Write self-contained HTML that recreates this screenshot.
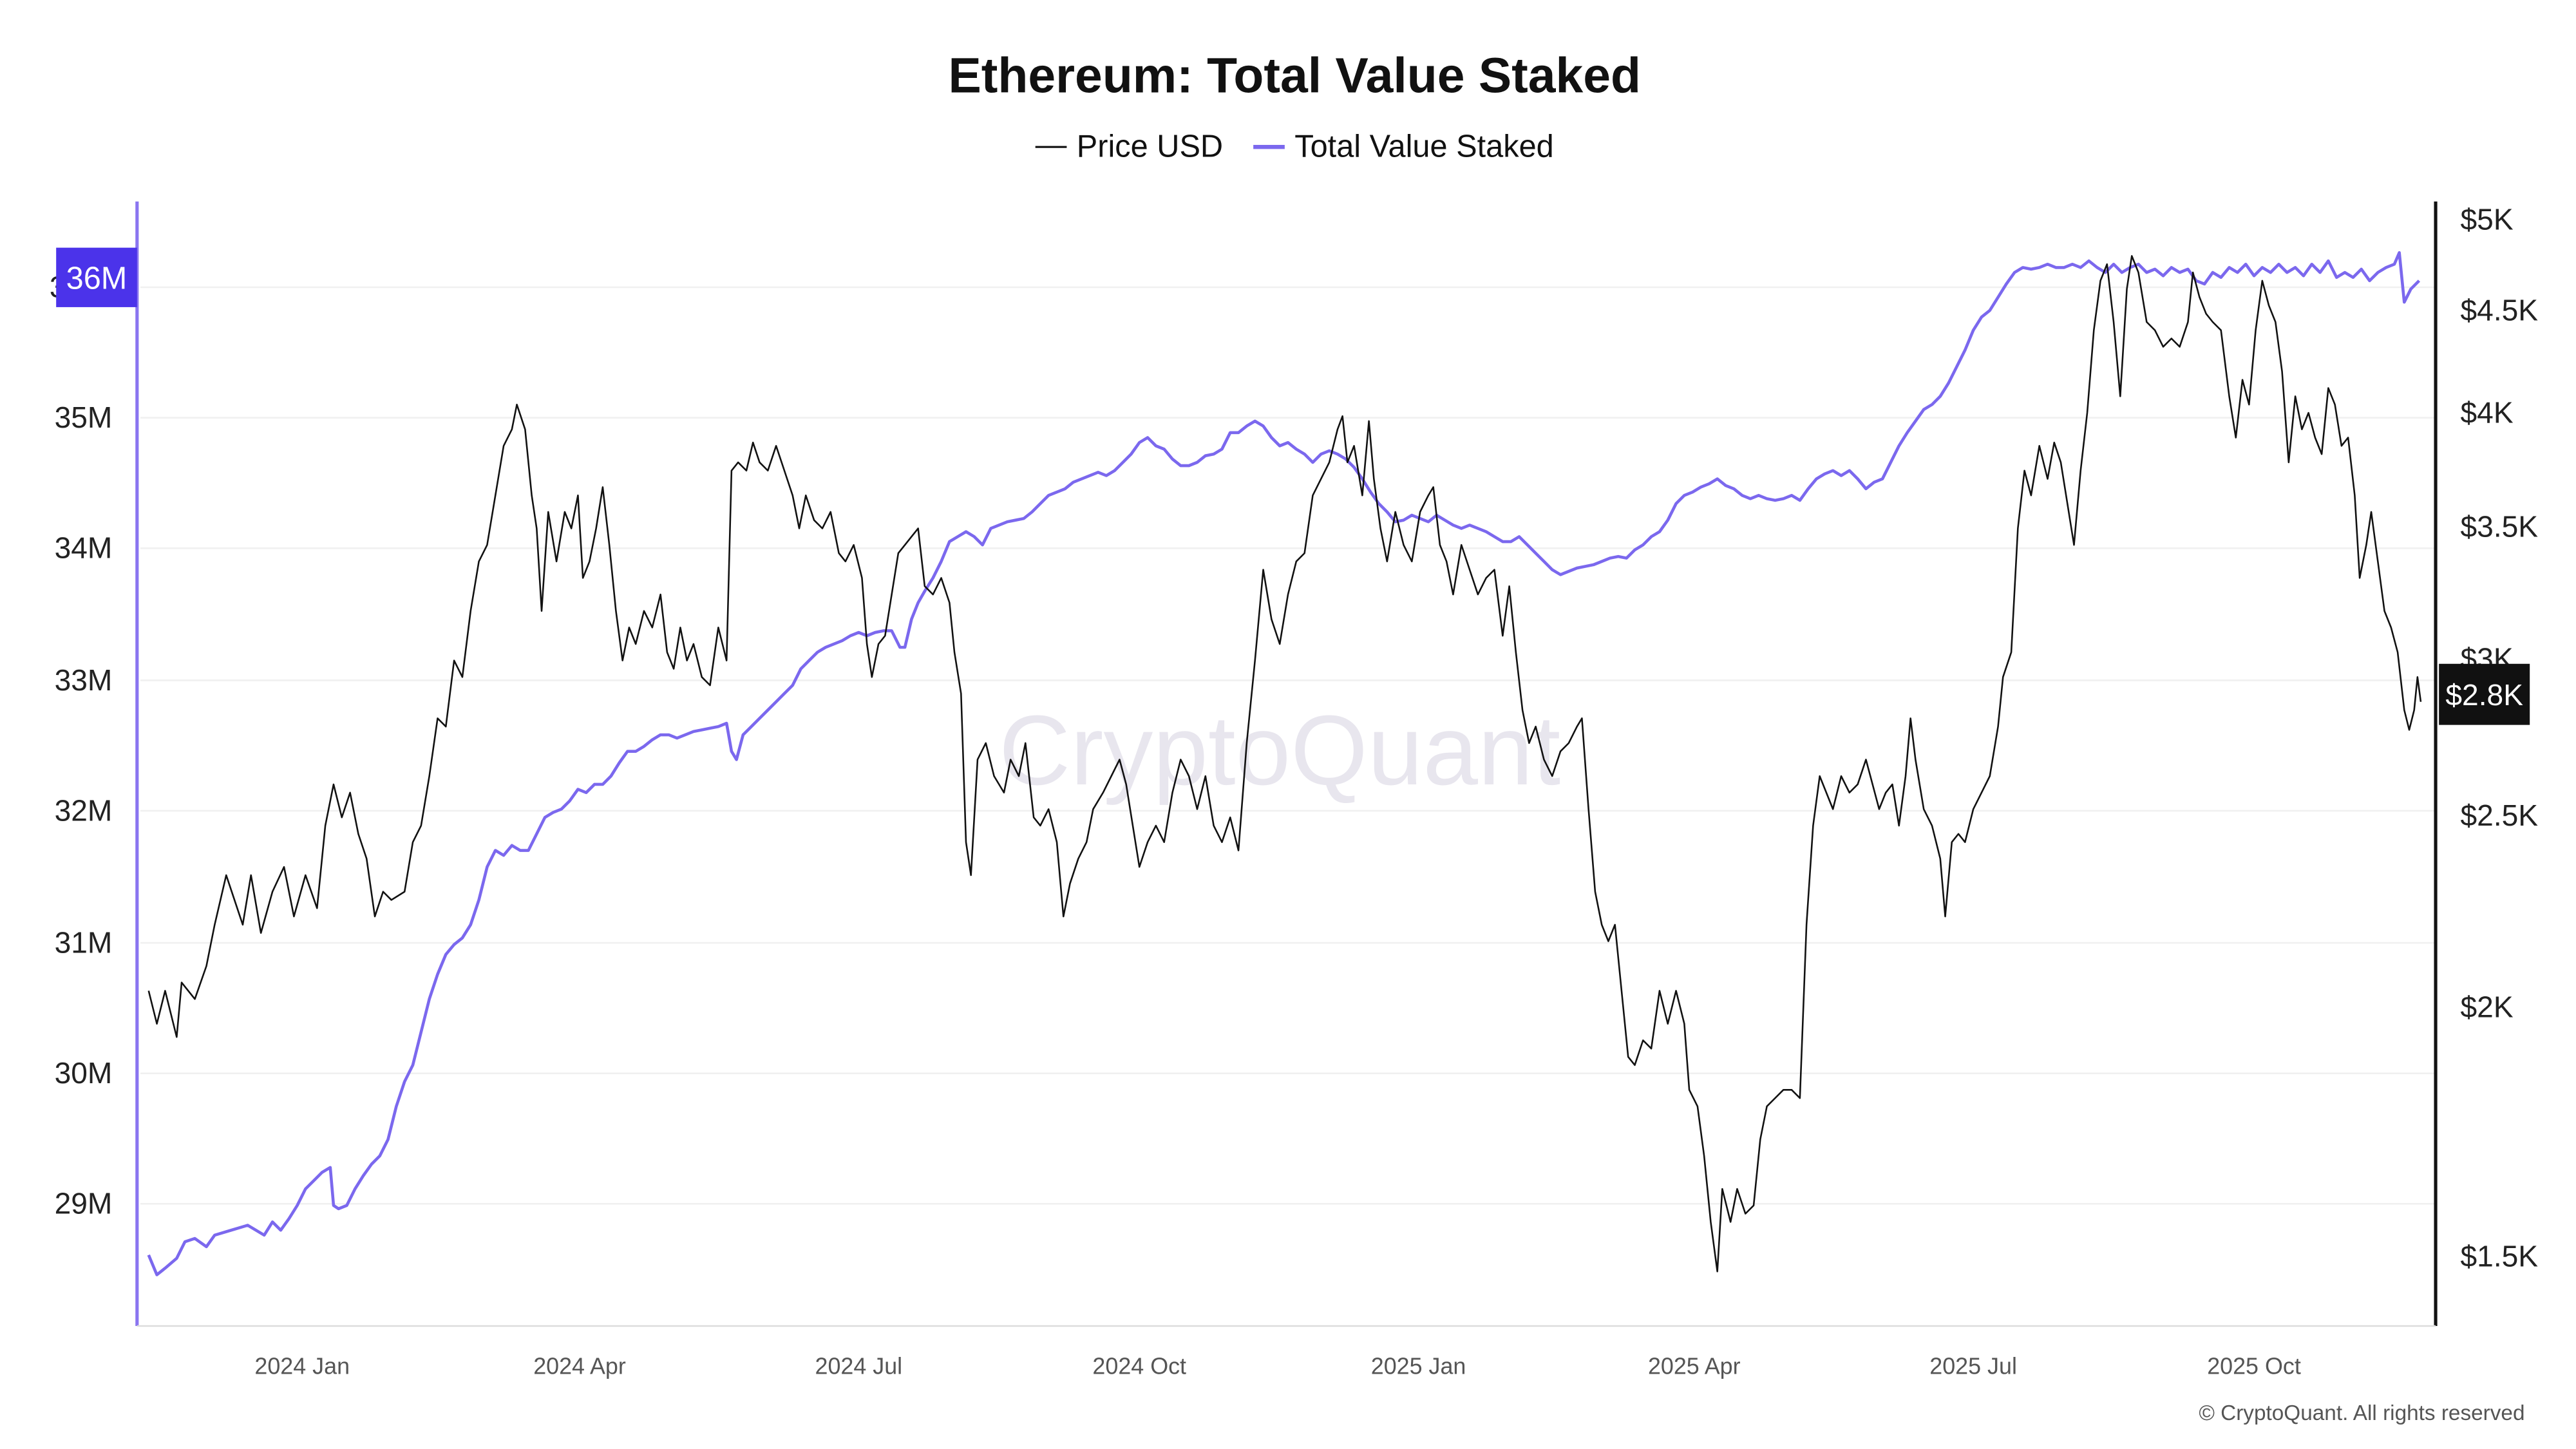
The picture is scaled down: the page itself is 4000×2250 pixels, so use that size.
<!DOCTYPE html>
<html><head><meta charset="utf-8"><style>
html,body{margin:0;padding:0;background:#fff;}
svg{display:block;}
text{font-family:"Liberation Sans","DejaVu Sans",sans-serif;}
</style></head><body>
<svg width="4000" height="2250" viewBox="0 0 1560 877.5" xmlns="http://www.w3.org/2000/svg">
<rect width="1560" height="877.5" fill="#fff"/>
<text x="784" y="56" text-anchor="middle" font-size="30" font-weight="bold" fill="#111">Ethereum: Total Value Staked</text>
<line x1="627" y1="89" x2="646" y2="89" stroke="#111" stroke-width="1.2"/>
<text x="652" y="95" font-size="19" fill="#111">Price USD</text>
<line x1="759" y1="89" x2="778" y2="89" stroke="#7b68ee" stroke-width="2.5"/>
<text x="784" y="95" font-size="19" fill="#111">Total Value Staked</text>
<g stroke="#f0f0f0" stroke-width="1">
<line x1="85" y1="174" x2="1474" y2="174"/><line x1="85" y1="253" x2="1474" y2="253"/><line x1="85" y1="332" x2="1474" y2="332"/><line x1="85" y1="412" x2="1474" y2="412"/><line x1="85" y1="491" x2="1474" y2="491"/><line x1="85" y1="571" x2="1474" y2="571"/><line x1="85" y1="650" x2="1474" y2="650"/><line x1="85" y1="729" x2="1474" y2="729"/>
</g>
<text x="775" y="475" text-anchor="middle" font-size="60" fill="#e8e6ee">CryptoQuant</text>
<line x1="83" y1="122" x2="83" y2="803" stroke="#8a75f0" stroke-width="2"/>
<line x1="1475" y1="122" x2="1475" y2="803" stroke="#111" stroke-width="2"/>
<line x1="83" y1="803" x2="1475" y2="803" stroke="#ddd" stroke-width="1"/>
<g font-size="18" fill="#222" text-anchor="end">
<text x="68" y="259">35M</text><text x="68" y="338">34M</text><text x="68" y="418">33M</text><text x="68" y="497">32M</text><text x="68" y="577">31M</text><text x="68" y="656">30M</text><text x="68" y="735">29M</text>
</g>
<g font-size="18" fill="#222">
<text x="1490" y="139">$5K</text><text x="1490" y="194">$4.5K</text><text x="1490" y="256">$4K</text><text x="1490" y="325">$3.5K</text><text x="1490" y="405">$3K</text><text x="1490" y="500">$2.5K</text><text x="1490" y="616">$2K</text><text x="1490" y="767">$1.5K</text>
</g>
<g font-size="14" fill="#555" text-anchor="middle">
<text x="183" y="832">2024 Jan</text><text x="351" y="832">2024 Apr</text><text x="520" y="832">2024 Jul</text><text x="690" y="832">2024 Oct</text><text x="859" y="832">2025 Jan</text><text x="1026" y="832">2025 Apr</text><text x="1195" y="832">2025 Jul</text><text x="1365" y="832">2025 Oct</text>
</g>
<text x="1529" y="860" text-anchor="end" font-size="13" fill="#555">© CryptoQuant. All rights reserved</text>
<polyline fill="none" stroke="#7b68ee" stroke-width="1.8" stroke-linejoin="round" points="90,760 95,772 100,768 107,762 112,752 118,750 125,755 130,748 140,745 150,742 160,748 165,740 170,745 175,738 180,730 185,720 190,715 195,710 200,707 202,730 205,732 210,730 215,720 220,712 225,705 230,700 235,690 240,670 245,655 250,645 255,625 260,605 265,590 270,578 275,572 280,568 285,560 290,545 295,525 300,515 305,518 310,512 315,515 320,515 325,505 330,495 335,492 340,490 345,485 350,478 355,480 360,475 365,475 370,470 375,462 380,455 385,455 390,452 395,448 400,445 405,445 410,447 415,445 420,443 425,442 430,441 435,440 440,438 443,455 446,460 450,445 455,440 460,435 465,430 470,425 475,420 480,415 485,405 490,400 495,395 500,392 505,390 510,388 515,385 520,383 525,385 530,383 535,382 540,382 545,392 548,392 552,375 556,365 560,358 565,350 570,340 575,328 580,325 585,322 590,325 595,330 600,320 605,318 610,316 615,315 620,314 625,310 630,305 635,300 640,298 645,296 650,292 655,290 660,288 665,286 670,288 675,285 680,280 685,275 690,268 695,265 700,270 705,272 710,278 715,282 720,282 725,280 730,276 735,275 740,272 745,262 750,262 755,258 760,255 765,258 770,265 775,270 780,268 785,272 790,275 795,280 800,275 805,273 810,275 815,278 820,283 825,290 830,298 835,305 840,310 845,316 850,315 855,312 860,314 865,316 870,312 875,315 880,318 885,320 890,318 895,320 900,322 905,325 910,328 915,328 920,325 925,330 930,335 935,340 940,345 945,348 950,346 955,344 960,343 965,342 970,340 975,338 980,337 985,338 990,333 995,330 1000,325 1005,322 1010,315 1015,305 1020,300 1025,298 1030,295 1035,293 1040,290 1045,294 1050,296 1055,300 1060,302 1065,300 1070,302 1075,303 1080,302 1085,300 1090,303 1095,296 1100,290 1105,287 1110,285 1115,288 1120,285 1125,290 1130,296 1135,292 1140,290 1145,280 1150,270 1155,262 1160,255 1165,248 1170,245 1175,240 1180,232 1185,222 1190,212 1195,200 1200,192 1205,188 1210,180 1215,172 1220,165 1225,162 1230,163 1235,162 1240,160 1245,162 1250,162 1255,160 1260,162 1265,158 1270,162 1275,165 1280,160 1285,165 1290,162 1295,160 1300,165 1305,163 1310,167 1315,162 1320,165 1325,163 1330,170 1335,172 1340,165 1345,168 1350,162 1355,165 1360,160 1365,167 1370,162 1375,165 1380,160 1385,165 1390,162 1395,167 1400,160 1405,165 1410,158 1415,168 1420,165 1425,168 1430,163 1435,170 1440,165 1445,162 1450,160 1453,153 1456,183 1460,175 1465,170"/>
<polyline fill="none" stroke="#111" stroke-width="1" stroke-linejoin="round" points="90,600 95,620 100,600 107,628 110,595 118,605 125,585 130,560 137,530 142,545 147,560 152,530 158,565 165,540 172,525 178,555 185,530 192,550 197,500 202,475 207,495 212,480 217,505 222,520 227,555 232,540 237,545 245,540 250,510 255,500 260,470 265,435 270,440 275,400 280,410 285,370 290,340 295,330 300,300 305,270 310,260 313,245 318,260 322,300 325,320 328,370 332,310 337,340 342,310 346,320 350,300 353,350 357,340 361,320 365,295 369,330 373,370 377,400 381,380 385,390 390,370 395,380 400,360 404,395 408,405 412,380 416,400 420,390 425,410 430,415 435,380 440,400 443,285 447,280 452,285 456,268 460,280 465,285 470,270 475,285 480,300 484,320 488,300 493,315 498,320 503,310 508,335 512,340 517,330 522,350 525,390 528,410 532,390 536,385 540,360 544,335 548,330 552,325 556,320 560,355 565,360 570,350 575,365 578,395 582,420 585,510 588,530 592,460 597,450 602,470 608,480 612,460 617,470 621,450 626,495 630,500 635,490 640,510 644,555 648,535 653,520 658,510 662,490 668,480 673,470 678,460 682,475 686,500 690,525 695,510 700,500 705,510 710,480 715,460 720,470 725,490 730,470 735,500 740,510 745,495 750,515 755,450 760,400 765,345 770,375 775,390 780,360 785,340 790,335 795,300 800,290 805,280 810,260 813,252 816,280 820,270 825,300 829,255 832,290 836,320 840,340 845,310 850,330 855,340 860,310 865,300 868,295 872,330 876,340 880,360 885,330 890,345 895,360 900,350 905,345 910,385 914,355 918,395 922,430 926,450 930,440 935,460 940,470 945,455 950,450 955,440 958,435 962,490 966,540 970,560 974,570 978,560 982,600 986,640 990,645 995,630 1000,635 1005,600 1010,620 1015,600 1020,620 1023,660 1028,670 1032,700 1036,740 1040,770 1043,720 1048,740 1052,720 1057,735 1062,730 1066,690 1070,670 1075,665 1080,660 1085,660 1090,665 1094,560 1098,500 1102,470 1106,480 1110,490 1115,470 1120,480 1125,475 1130,460 1134,475 1138,490 1142,480 1146,475 1150,500 1154,470 1157,435 1160,460 1165,490 1170,500 1175,520 1178,555 1182,510 1186,505 1190,510 1195,490 1200,480 1205,470 1210,440 1213,410 1218,395 1222,320 1226,285 1230,300 1235,270 1240,290 1244,268 1248,280 1252,305 1256,330 1260,285 1264,250 1268,200 1272,170 1276,160 1280,195 1284,240 1288,175 1291,155 1295,165 1300,195 1305,200 1310,210 1315,205 1320,210 1325,195 1328,165 1332,180 1336,190 1340,195 1345,200 1350,240 1354,265 1358,230 1362,245 1366,200 1370,170 1374,185 1378,195 1382,225 1386,280 1390,240 1394,260 1398,250 1402,265 1406,275 1410,235 1414,245 1418,270 1422,265 1426,300 1429,350 1433,330 1436,310 1440,340 1444,370 1448,380 1452,395 1456,430 1459,442 1462,430 1464,410 1466,425"/>
<text x="30" y="180" font-size="18" fill="#222">3</text>
<rect x="34" y="150" width="49" height="36" fill="#4b33ea"/>
<text x="58.5" y="175" text-anchor="middle" font-size="19" fill="#fff">36M</text>
<rect x="1477" y="402" width="55" height="37" fill="#111"/>
<text x="1504.5" y="427" text-anchor="middle" font-size="18" fill="#fff">$2.8K</text>
</svg>
</body></html>
